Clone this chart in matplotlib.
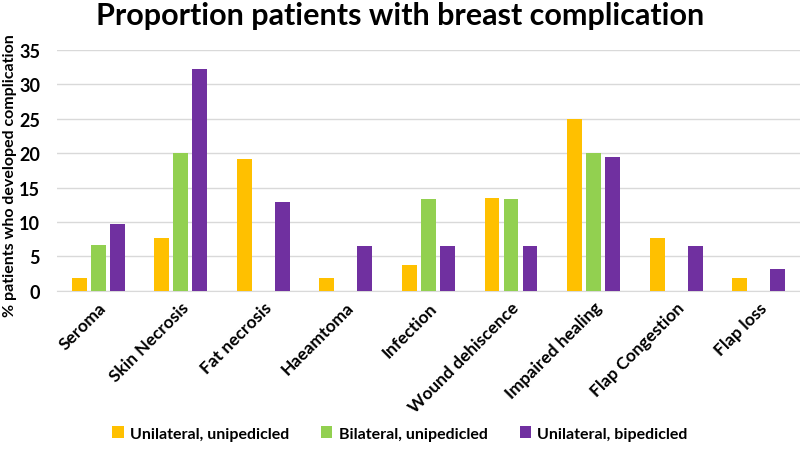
import numpy as np
import matplotlib.pyplot as plt

categories = ["Seroma", "Skin Necrosis", "Fat necrosis", "Haeamtoma", "Infection",
              "Wound dehiscence", "Impaired healing", "Flap Congestion", "Flap loss"]
uni_unip = [1.9, 7.7, 19.2, 1.9, 3.8, 13.5, 25.0, 7.7, 1.9]
bi_unip = [6.7, 20.0, 0, 0, 13.3, 13.3, 20.0, 0, 0]
uni_bip = [9.7, 32.3, 12.9, 6.5, 6.5, 6.5, 19.4, 6.5, 3.2]
series_names = ["Unilateral, unipedicled", "Bilateral, unipedicled", "Unilateral, bipedicled"]
colors = ["#FFC000", "#92D050", "#7030A0"]

plt.rcParams['font.family'] = ['Lato', 'DejaVu Sans']
plt.rcParams['font.weight'] = 'bold'

fig = plt.figure(figsize=(8, 4.56), dpi=100)
ax = fig.add_axes([0.071, 0.36, 0.929, 0.528])

x = np.arange(len(categories))
w = 0.18
step = 0.23
for i, (vals, name, c) in enumerate(zip([uni_unip, bi_unip, uni_bip], series_names, colors)):
    ax.bar(x + (i - 1) * step, vals, w, color=c, label=name, zorder=3)

ax.set_xlim(-0.5, len(categories) - 0.5)
ax.set_ylim(0, 35)
ax.set_yticks(range(0, 36, 5))
ax.yaxis.grid(True, color="#D9D9D9", linewidth=1, zorder=0)
for s in ["top", "right", "left"]:
    ax.spines[s].set_visible(False)
ax.spines["bottom"].set_color("#D9D9D9")
ax.tick_params(axis="x", length=0, labelsize=12.5, pad=6)
ax.tick_params(axis="y", length=0, labelsize=13, pad=12)
ax.set_xticks(x)
ax.set_xticklabels(categories, rotation=45, ha="right", rotation_mode="anchor", fontweight="bold")

fig.text(0.012, 0.615, "% patients who developed complication", rotation=90,
         ha="center", va="center", fontsize=11.5, fontweight="bold")

fig.suptitle("Proportion patients with breast complication", x=0.5, y=0.995,
             fontsize=22, fontweight="bold")

fig.legend(loc="lower center", bbox_to_anchor=(0.5, 0.0), ncol=3, frameon=False,
           fontsize=11.5, handlelength=0.7, handleheight=0.7, columnspacing=2.0,
           handletextpad=0.4)

fig.savefig("out.png", dpi=100)
